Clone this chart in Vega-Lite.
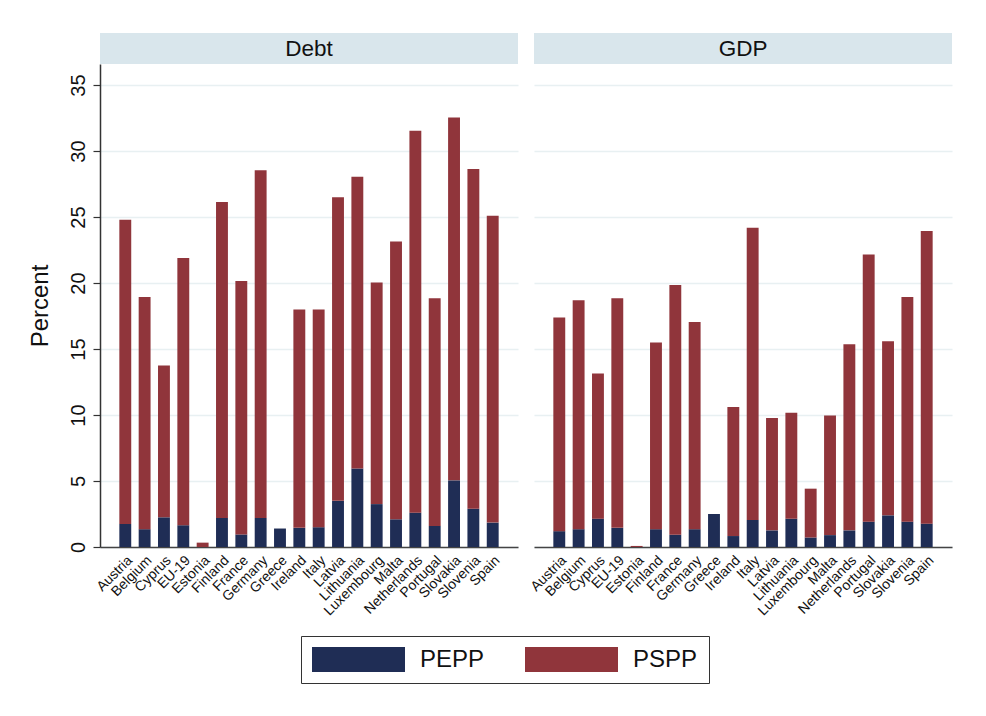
{
  "$schema": "https://vega.github.io/schema/vega-lite/v6.json",
  "padding": {"left": 28, "top": 33, "right": 30, "bottom": 30},
  "background": "white",
  "config": {
    "font": "Liberation Sans",
    "view": {"stroke": null},
    "axis": {"labelFont": "Liberation Sans", "titleFont": "Liberation Sans", "labelColor": "#111", "titleColor": "#111"}
  },
  "datasets": {
    "bars": [
      {"indicator": "Debt", "country": "Austria", "programme": "PEPP", "value": 1.75},
      {"indicator": "Debt", "country": "Austria", "programme": "PSPP", "value": 23.05},
      {"indicator": "Debt", "country": "Belgium", "programme": "PEPP", "value": 1.35},
      {"indicator": "Debt", "country": "Belgium", "programme": "PSPP", "value": 17.6},
      {"indicator": "Debt", "country": "Cyprus", "programme": "PEPP", "value": 2.25},
      {"indicator": "Debt", "country": "Cyprus", "programme": "PSPP", "value": 11.5},
      {"indicator": "Debt", "country": "EU-19", "programme": "PEPP", "value": 1.65},
      {"indicator": "Debt", "country": "EU-19", "programme": "PSPP", "value": 20.25},
      {"indicator": "Debt", "country": "Estonia", "programme": "PEPP", "value": 0},
      {"indicator": "Debt", "country": "Estonia", "programme": "PSPP", "value": 0.33},
      {"indicator": "Debt", "country": "Finland", "programme": "PEPP", "value": 2.2},
      {"indicator": "Debt", "country": "Finland", "programme": "PSPP", "value": 23.95},
      {"indicator": "Debt", "country": "France", "programme": "PEPP", "value": 0.95},
      {"indicator": "Debt", "country": "France", "programme": "PSPP", "value": 19.2},
      {"indicator": "Debt", "country": "Germany", "programme": "PEPP", "value": 2.2},
      {"indicator": "Debt", "country": "Germany", "programme": "PSPP", "value": 26.35},
      {"indicator": "Debt", "country": "Greece", "programme": "PEPP", "value": 1.4},
      {"indicator": "Debt", "country": "Greece", "programme": "PSPP", "value": 0},
      {"indicator": "Debt", "country": "Ireland", "programme": "PEPP", "value": 1.45},
      {"indicator": "Debt", "country": "Ireland", "programme": "PSPP", "value": 16.55},
      {"indicator": "Debt", "country": "Italy", "programme": "PEPP", "value": 1.5},
      {"indicator": "Debt", "country": "Italy", "programme": "PSPP", "value": 16.5},
      {"indicator": "Debt", "country": "Latvia", "programme": "PEPP", "value": 3.5},
      {"indicator": "Debt", "country": "Latvia", "programme": "PSPP", "value": 23.0},
      {"indicator": "Debt", "country": "Lithuania", "programme": "PEPP", "value": 5.95},
      {"indicator": "Debt", "country": "Lithuania", "programme": "PSPP", "value": 22.1},
      {"indicator": "Debt", "country": "Luxembourg", "programme": "PEPP", "value": 3.25},
      {"indicator": "Debt", "country": "Luxembourg", "programme": "PSPP", "value": 16.8},
      {"indicator": "Debt", "country": "Malta", "programme": "PEPP", "value": 2.1},
      {"indicator": "Debt", "country": "Malta", "programme": "PSPP", "value": 21.05},
      {"indicator": "Debt", "country": "Netherlands", "programme": "PEPP", "value": 2.6},
      {"indicator": "Debt", "country": "Netherlands", "programme": "PSPP", "value": 28.95},
      {"indicator": "Debt", "country": "Portugal", "programme": "PEPP", "value": 1.6},
      {"indicator": "Debt", "country": "Portugal", "programme": "PSPP", "value": 17.25},
      {"indicator": "Debt", "country": "Slovakia", "programme": "PEPP", "value": 5.05},
      {"indicator": "Debt", "country": "Slovakia", "programme": "PSPP", "value": 27.5},
      {"indicator": "Debt", "country": "Slovenia", "programme": "PEPP", "value": 2.9},
      {"indicator": "Debt", "country": "Slovenia", "programme": "PSPP", "value": 25.75},
      {"indicator": "Debt", "country": "Spain", "programme": "PEPP", "value": 1.85},
      {"indicator": "Debt", "country": "Spain", "programme": "PSPP", "value": 23.25},
      {"indicator": "GDP", "country": "Austria", "programme": "PEPP", "value": 1.2},
      {"indicator": "GDP", "country": "Austria", "programme": "PSPP", "value": 16.2},
      {"indicator": "GDP", "country": "Belgium", "programme": "PEPP", "value": 1.35},
      {"indicator": "GDP", "country": "Belgium", "programme": "PSPP", "value": 17.35},
      {"indicator": "GDP", "country": "Cyprus", "programme": "PEPP", "value": 2.15},
      {"indicator": "GDP", "country": "Cyprus", "programme": "PSPP", "value": 11.0},
      {"indicator": "GDP", "country": "EU-19", "programme": "PEPP", "value": 1.45},
      {"indicator": "GDP", "country": "EU-19", "programme": "PSPP", "value": 17.4},
      {"indicator": "GDP", "country": "Estonia", "programme": "PEPP", "value": 0},
      {"indicator": "GDP", "country": "Estonia", "programme": "PSPP", "value": 0.08},
      {"indicator": "GDP", "country": "Finland", "programme": "PEPP", "value": 1.35},
      {"indicator": "GDP", "country": "Finland", "programme": "PSPP", "value": 14.15},
      {"indicator": "GDP", "country": "France", "programme": "PEPP", "value": 0.93},
      {"indicator": "GDP", "country": "France", "programme": "PSPP", "value": 18.92},
      {"indicator": "GDP", "country": "Germany", "programme": "PEPP", "value": 1.35},
      {"indicator": "GDP", "country": "Germany", "programme": "PSPP", "value": 15.7},
      {"indicator": "GDP", "country": "Greece", "programme": "PEPP", "value": 2.5},
      {"indicator": "GDP", "country": "Greece", "programme": "PSPP", "value": 0},
      {"indicator": "GDP", "country": "Ireland", "programme": "PEPP", "value": 0.83},
      {"indicator": "GDP", "country": "Ireland", "programme": "PSPP", "value": 9.77},
      {"indicator": "GDP", "country": "Italy", "programme": "PEPP", "value": 2.05},
      {"indicator": "GDP", "country": "Italy", "programme": "PSPP", "value": 22.15},
      {"indicator": "GDP", "country": "Latvia", "programme": "PEPP", "value": 1.26},
      {"indicator": "GDP", "country": "Latvia", "programme": "PSPP", "value": 8.51},
      {"indicator": "GDP", "country": "Lithuania", "programme": "PEPP", "value": 2.14},
      {"indicator": "GDP", "country": "Lithuania", "programme": "PSPP", "value": 8.03},
      {"indicator": "GDP", "country": "Luxembourg", "programme": "PEPP", "value": 0.72},
      {"indicator": "GDP", "country": "Luxembourg", "programme": "PSPP", "value": 3.7},
      {"indicator": "GDP", "country": "Malta", "programme": "PEPP", "value": 0.9},
      {"indicator": "GDP", "country": "Malta", "programme": "PSPP", "value": 9.07},
      {"indicator": "GDP", "country": "Netherlands", "programme": "PEPP", "value": 1.26},
      {"indicator": "GDP", "country": "Netherlands", "programme": "PSPP", "value": 14.1},
      {"indicator": "GDP", "country": "Portugal", "programme": "PEPP", "value": 1.92},
      {"indicator": "GDP", "country": "Portugal", "programme": "PSPP", "value": 20.25},
      {"indicator": "GDP", "country": "Slovakia", "programme": "PEPP", "value": 2.4},
      {"indicator": "GDP", "country": "Slovakia", "programme": "PSPP", "value": 13.2},
      {"indicator": "GDP", "country": "Slovenia", "programme": "PEPP", "value": 1.92},
      {"indicator": "GDP", "country": "Slovenia", "programme": "PSPP", "value": 17.02},
      {"indicator": "GDP", "country": "Spain", "programme": "PEPP", "value": 1.77},
      {"indicator": "GDP", "country": "Spain", "programme": "PSPP", "value": 22.17}
    ]
  },
  "spacing": 9,
  "hconcat": [
    {
      "spacing": 0,
      "vconcat": [
        {
          "width": 418, "height": 31,
          "view": {"fill": "#d9e6ec", "stroke": null},
          "data": {"values": [{"panel": "Debt"}]},
          "mark": {"type": "text", "fontSize": 22.5, "color": "#111", "font": "Liberation Sans"},
          "encoding": {"text": {"field": "panel", "type": "nominal"}}
        },
        {
          "width": 418, "height": 483,
          "data": {"name": "bars"},
          "transform": [{"filter": "datum.indicator === 'Debt'"}],
          "mark": {"type": "bar"},
          "encoding": {
            "x": {"field": "country", "type": "nominal", "sort": null,
              "scale": {"paddingInner": 0.385, "paddingOuter": 1.24},
              "axis": {"title": null, "labelAngle": -45, "labelFontSize": 14, "ticks": false, "labelPadding": 6, "domainColor": "#444", "domainWidth": 1.5, "grid": false}},
            "y": {"field": "value", "type": "quantitative", "stack": "zero",
              "scale": {"domain": [0, 36.6], "nice": false, "zero": true},
              "axis": {"title": "Percent", "titleFontSize": 24, "titleFontWeight": "normal", "titlePadding": 16,
                "values": [0, 5, 10, 15, 20, 25, 30, 35], "labelAngle": -90, "labelFontSize": 20, "labelPadding": 5,
                "tickSize": 7, "tickColor": "#333", "tickWidth": 1.2, "domainColor": "#333", "domainWidth": 1.5,
                "gridColor": "#e8f0f2", "gridWidth": 1.4}},
            "color": {"field": "programme", "type": "nominal",
              "scale": {"domain": ["PEPP", "PSPP"], "range": ["#1f2d55", "#90353b"]},
              "legend": {"title": null, "orient": "none", "legendX": 201, "legendY": 603, "direction": "horizontal",
                "symbolType": "M-1,-1H6.44V1H-1Z", "symbolSize": 625, "symbolStrokeWidth": 0,
                "labelFontSize": 24, "labelOffset": 83, "columnPadding": 40, "padding": 11,
                "strokeColor": "#333", "fillColor": "white", "labelColor": "#111", "labelFont": "Liberation Sans"}},
            "order": {"field": "programme", "sort": "ascending"}
          }
        }
      ]
    },
    {
      "spacing": 0,
      "vconcat": [
        {
          "width": 418, "height": 31,
          "view": {"fill": "#d9e6ec", "stroke": null},
          "data": {"values": [{"panel": "GDP"}]},
          "mark": {"type": "text", "fontSize": 22.5, "color": "#111", "font": "Liberation Sans"},
          "encoding": {"text": {"field": "panel", "type": "nominal"}}
        },
        {
          "width": 418, "height": 483,
          "data": {"name": "bars"},
          "transform": [{"filter": "datum.indicator === 'GDP'"}],
          "mark": {"type": "bar"},
          "encoding": {
            "x": {"field": "country", "type": "nominal", "sort": null,
              "scale": {"paddingInner": 0.385, "paddingOuter": 1.24},
              "axis": {"title": null, "labelAngle": -45, "labelFontSize": 14, "ticks": false, "labelPadding": 6, "domainColor": "#444", "domainWidth": 1.5, "grid": false}},
            "y": {"field": "value", "type": "quantitative", "stack": "zero",
              "scale": {"domain": [0, 36.6], "nice": false, "zero": true},
              "axis": {"title": null, "values": [0, 5, 10, 15, 20, 25, 30, 35], "labels": false, "ticks": false, "domain": false,
                "gridColor": "#e8f0f2", "gridWidth": 1.4}},
            "color": {"field": "programme", "type": "nominal",
              "scale": {"domain": ["PEPP", "PSPP"], "range": ["#1f2d55", "#90353b"]},
              "legend": {"title": null, "orient": "none", "legendX": 201, "legendY": 603, "direction": "horizontal",
                "symbolType": "M-1,-1H6.44V1H-1Z", "symbolSize": 625, "symbolStrokeWidth": 0,
                "labelFontSize": 24, "labelOffset": 83, "columnPadding": 40, "padding": 11,
                "strokeColor": "#333", "fillColor": "white", "labelColor": "#111", "labelFont": "Liberation Sans"}},
            "order": {"field": "programme", "sort": "ascending"}
          }
        }
      ]
    }
  ]
}
